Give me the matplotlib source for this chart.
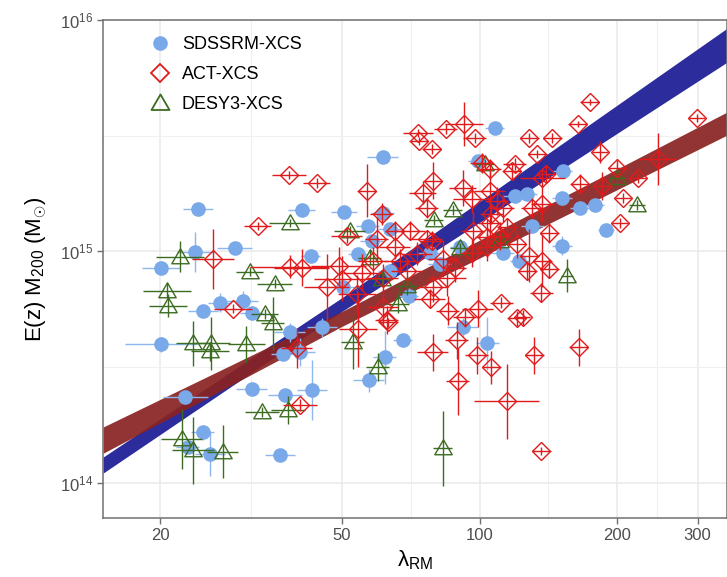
import numpy as np
import matplotlib
matplotlib.use("Agg")
import matplotlib.pyplot as plt
from matplotlib.lines import Line2D
from matplotlib.path import Path
from matplotlib.ticker import FixedLocator, FixedFormatter, NullFormatter

plt.rcParams["font.family"] = ["Liberation Sans", "DejaVu Sans"]
plt.rcParams["mathtext.fontset"] = "custom"
plt.rcParams["mathtext.rm"] = "Liberation Sans"
plt.rcParams["mathtext.it"] = "Liberation Sans:italic"
plt.rcParams["mathtext.bf"] = "Liberation Sans:bold"

# masses are E(z) M200 in units of 1e14 Msun; *_frac are relative error bar half-sizes

# SDSSRM-XCS
sds_lam = [20.1, 24.2, 23.9, 29.1, 40.8, 42.7, 50.5, 54.1, 27.0, 30.3,
           24.8, 31.7, 20.1, 38.4, 37.1, 40.4, 45.2, 22.7, 31.7, 37.5,
           43.0, 24.8, 25.7, 36.6, 23.0, 62.0, 57.2, 61.4, 56.9, 61.4,
           63.6, 58.1, 63.6, 50.2, 107.9, 99.1, 152.1, 119.3, 127.3, 151.4,
           165.7, 178.7, 188.9, 130.6, 151.4, 112.3, 77.8, 81.8, 70.0, 67.9,
           91.9, 104.1, 90.5, 122.3]
sds_mass = [8.51, 15.3, 9.97, 10.3, 15.1, 9.58, 14.8, 9.77, 6.01, 6.13,
            5.55, 5.39, 3.96, 4.46, 3.59, 3.66, 4.69, 2.34, 2.53, 2.39,
            2.51, 1.65, 1.33, 1.32, 1.42, 3.48, 2.77, 25.6, 12.9, 14.7,
            12.5, 11.1, 8.26, 6.98, 34.1, 24.6, 22.3, 17.4, 17.7, 17.0,
            15.4, 15.9, 12.4, 12.9, 10.6, 9.87, 9.87, 8.85, 6.44, 4.12,
            4.69, 4.00, 10.4, 9.12]
sds_lam_frac = [0.10, 0.08, 0.10, 0.09, 0.07, 0.05, 0.07, 0.05, 0.06, 0.08,
                0.08, 0.06, 0.20, 0.08, 0.06, 0.08, 0.08, 0.12, 0.08, 0.09,
                0.08, 0.06, 0.08, 0.08, 0.06, 0.06, 0.08, 0.08, 0.06, 0.06,
                0.06, 0.06, 0.06, 0.08, 0.05, 0.05, 0.05, 0.06, 0.05, 0.05,
                0.05, 0.05, 0.04, 0.06, 0.05, 0.06, 0.06, 0.06, 0.05, 0.05,
                0.08, 0.06, 0.05, 0.05]
sds_mass_frac = [0.05, 0.04, 0.22, 0.04, 0.03, 0.04, 0.03, 0.04, 0.10, 0.10,
                 0.05, 0.05, 0.08, 0.10, 0.06, 0.15, 0.10, 0.05, 0.05, 0.06,
                 0.35, 0.08, 0.25, 0.04, 0.06, 0.30, 0.12, 0.03, 0.05, 0.05,
                 0.05, 0.05, 0.05, 0.05, 0.03, 0.04, 0.05, 0.05, 0.05, 0.06,
                 0.05, 0.05, 0.04, 0.05, 0.10, 0.05, 0.06, 0.05, 0.08, 0.05,
                 0.10, 0.30, 0.05, 0.05]

# ACT-XCS
act_lam = [38.3, 44.0, 32.7, 26.1, 38.4, 40.8, 49.2, 51.2, 28.9, 39.8,
           40.4, 56.6, 61.1, 59.6, 65.2, 65.2, 46.3, 50.0, 55.3, 58.4,
           61.4, 61.4, 62.7, 54.1, 63.0, 73.3, 84.3, 92.4, 97.6, 73.6,
           78.6, 79.0, 75.1, 91.9, 101.1, 105.2, 119.3, 96.2, 105.2, 109.0,
           112.3, 76.6, 70.4, 96.6, 105.2, 114.6, 103.6, 76.6, 83.1, 88.3,
           69.3, 79.0, 84.8, 77.8, 85.2, 99.1, 111.7, 92.8, 89.2, 79.0,
           98.6, 106.2, 89.6, 114.6, 120.5, 124.2, 131.9, 164.9, 136.6, 136.6,
           174.3, 299.1, 164.1, 128.6, 144.4, 133.9, 183.3, 245.7, 199.7, 222.1,
           165.7, 137.3, 185.1, 205.8, 142.2, 202.7, 130.6, 137.3, 128.6, 137.3,
           142.2, 127.3, 120.5, 140.1, 106.2, 110.6, 96.2, 72.9, 66.9, 78.6,
           104.1, 117.5, 53.9]
act_mass = [21.4, 19.8, 12.9, 9.30, 8.59, 8.51, 8.68, 11.7, 5.66, 3.81,
            2.16, 18.3, 14.5, 11.3, 12.3, 10.4, 6.98, 7.63, 8.10, 9.12,
            7.70, 5.72, 5.03, 4.60, 4.93, 32.5, 33.8, 35.5, 30.9, 30.0,
            27.7, 20.2, 17.9, 18.8, 24.1, 22.7, 23.9, 16.9, 18.3, 16.5,
            15.4, 15.4, 12.3, 12.3, 13.2, 12.7, 11.5, 11.3, 9.30, 8.51,
            8.26, 6.98, 7.70, 6.25, 5.55, 5.66, 6.01, 5.18, 4.12, 3.66,
            3.55, 3.15, 2.74, 2.25, 5.13, 5.18, 3.55, 3.85, 1.37, 6.64,
            44.2, 37.7, 35.5, 30.9, 30.9, 26.4, 26.9, 25.1, 23.0, 20.8,
            19.6, 20.8, 19.2, 17.0, 12.0, 13.3, 15.4, 16.1, 9.58, 9.12,
            8.42, 8.26, 10.8, 21.6, 14.5, 11.7, 9.87, 9.77, 9.12, 11.1,
            10.4, 22.3, 6.57]
act_lam_frac = [0.09, 0.07, 0.07, 0.11, 0.22, 0.15, 0.15, 0.08, 0.10, 0.08,
                0.09, 0.05, 0.06, 0.06, 0.05, 0.08, 0.12, 0.15, 0.10, 0.08,
                0.08, 0.08, 0.06, 0.10, 0.05, 0.08, 0.06, 0.10, 0.06, 0.05,
                0.05, 0.05, 0.07, 0.07, 0.06, 0.06, 0.06, 0.10, 0.08, 0.06,
                0.06, 0.06, 0.08, 0.06, 0.06, 0.05, 0.06, 0.08, 0.08, 0.06,
                0.08, 0.08, 0.10, 0.08, 0.06, 0.08, 0.06, 0.06, 0.06, 0.08,
                0.06, 0.05, 0.06, 0.18, 0.05, 0.04, 0.05, 0.05, 0.05, 0.06,
                0.05, 0.04, 0.05, 0.05, 0.05, 0.05, 0.04, 0.10, 0.04, 0.04,
                0.05, 0.12, 0.04, 0.04, 0.05, 0.04, 0.06, 0.06, 0.05, 0.05,
                0.05, 0.05, 0.05, 0.05, 0.06, 0.06, 0.06, 0.08, 0.08, 0.06,
                0.06, 0.05, 0.10]
act_mass_frac = [0.04, 0.05, 0.04, 0.35, 0.12, 0.20, 0.20, 0.08, 0.05, 0.22,
                 0.06, 0.30, 0.12, 0.25, 0.10, 0.12, 0.40, 0.25, 0.20, 0.15,
                 0.15, 0.20, 0.15, 0.45, 0.05, 0.04, 0.05, 0.25, 0.05, 0.04,
                 0.05, 0.20, 0.12, 0.20, 0.10, 0.10, 0.06, 0.15, 0.20, 0.15,
                 0.15, 0.10, 0.10, 0.20, 0.15, 0.10, 0.20, 0.10, 0.20, 0.15,
                 0.12, 0.15, 0.20, 0.10, 0.15, 0.20, 0.06, 0.10, 0.20, 0.20,
                 0.20, 0.18, 0.40, 0.45, 0.08, 0.08, 0.20, 0.20, 0.04, 0.10,
                 0.03, 0.04, 0.03, 0.05, 0.05, 0.04, 0.12, 0.30, 0.08, 0.05,
                 0.10, 0.10, 0.15, 0.05, 0.10, 0.05, 0.10, 0.20, 0.30, 0.30,
                 0.10, 0.10, 0.15, 0.08, 0.10, 0.15, 0.15, 0.12, 0.12, 0.10,
                 0.15, 0.08, 0.20]

# DESY3-XCS
des_lam = [22.1, 20.7, 20.8, 31.4, 35.6, 38.4, 52.0, 23.6, 25.9, 25.7,
           30.9, 33.9, 35.3, 52.8, 33.4, 38.1, 22.3, 23.6, 27.4, 59.9,
           69.3, 66.2, 83.1, 102.6, 87.4, 79.4, 90.5, 199.7, 221.0, 155.2,
           57.5, 61.1, 110.6]
des_mass = [9.49, 6.77, 5.83, 8.18, 7.26, 13.3, 12.3, 4.00, 4.00, 3.70,
            3.96, 5.34, 4.88, 4.04, 2.02, 2.06, 1.54, 1.38, 1.36, 3.15,
            7.11, 5.95, 1.41, 23.9, 15.1, 13.7, 10.3, 20.8, 15.9, 7.86,
            9.39, 7.63, 11.1]
des_lam_frac = [0.13, 0.13, 0.10, 0.07, 0.09, 0.11, 0.08, 0.09, 0.10, 0.10,
                0.10, 0.07, 0.06, 0.06, 0.09, 0.09, 0.11, 0.11, 0.08, 0.06,
                0.06, 0.06, 0.05, 0.05, 0.05, 0.05, 0.05, 0.04, 0.04, 0.03,
                0.06, 0.06, 0.05]
des_mass_frac = [0.17, 0.08, 0.12, 0.05, 0.05, 0.04, 0.05, 0.25, 0.30, 0.10,
                 0.20, 0.05, 0.30, 0.30, 0.05, 0.15, 0.35, 0.40, 0.30, 0.15,
                 0.10, 0.10, 0.45, 0.05, 0.05, 0.05, 0.05, 0.06, 0.05, 0.18,
                 0.08, 0.08, 0.05]

# fitted relations (band edges, 1e14 Msun)
band_lam = [15, 50, 348]
sds_band_lo = [1.10, 5.50, 65.7]
sds_band_hi = [1.29, 6.31, 92.1]
act_band_lo = [1.34, 4.74, 31.8]
act_band_hi = [1.74, 5.50, 40.0]

BLUE = "#79A9E9"
RED = "#E01B1B"
GREEN = "#3C6B22"
BAND_BLUE = "#2C2C9C"
BAND_RED = "#8A2222"

# open equilateral triangle like ggplot shape 2
TRIANGLE = Path([(-0.5, -0.36), (0.5, -0.36), (0.0, 0.5), (-0.5, -0.36)],
                [Path.MOVETO, Path.LINETO, Path.LINETO, Path.CLOSEPOLY])


def draw_sample(ax, lam, mass, lam_frac, mass_frac, color, marker, ms, filled,
                ecolor, z):
    lam = np.asarray(lam)
    mass = np.asarray(mass) * 1e14
    lf = 1 + np.asarray(lam_frac)
    mf = 1 + np.asarray(mass_frac)
    xerr = [lam - lam / lf, lam * lf - lam]
    yerr = [mass - mass / mf, mass * mf - mass]
    ax.errorbar(lam, mass, xerr=xerr, yerr=yerr, fmt="none", ecolor=ecolor,
                elinewidth=1.0, capsize=0, zorder=z)
    ax.plot(lam, mass, linestyle="none", marker=marker, ms=ms,
            mfc=color if filled else "none", mec=color, mew=1.0, zorder=z + 0.1)


fig = plt.figure(figsize=(7.27, 5.77), dpi=100)
ax = fig.add_axes([0.1417, 0.1023, 0.8583, 0.863])
ax.set_xscale("log")
ax.set_yscale("log")
ax.set_xlim(15, 348)
ax.set_ylim(7.04e13, 1e16)

lam_b = np.asarray(band_lam)
ax.fill_between(lam_b, np.asarray(sds_band_lo) * 1e14, np.asarray(sds_band_hi) * 1e14,
                color=BAND_BLUE, lw=0, zorder=2)
ax.fill_between(lam_b, np.asarray(act_band_lo) * 1e14, np.asarray(act_band_hi) * 1e14,
                color=BAND_RED, alpha=0.92, lw=0, zorder=2.1)

draw_sample(ax, sds_lam, sds_mass, sds_lam_frac, sds_mass_frac, BLUE, "o", 9.5,
            True, "#8DB7EE", 3)
draw_sample(ax, des_lam, des_mass, des_lam_frac, des_mass_frac, GREEN, TRIANGLE, 12.5,
            False, GREEN, 4)
draw_sample(ax, act_lam, act_mass, act_lam_frac, act_mass_frac, RED, "D", 9,
            False, RED, 5)

# axes styling, ggplot theme_bw-like
x_major = [20, 50, 100, 200, 300]
x_minor = [31.6, 70.7, 141.4, 244.9]
y_major = [1e14, 1e15, 1e16]
y_minor = [10 ** 14.5, 10 ** 15.5]
ax.xaxis.set_major_locator(FixedLocator(x_major))
ax.xaxis.set_major_formatter(FixedFormatter([str(v) for v in x_major]))
ax.xaxis.set_minor_locator(FixedLocator(x_minor))
ax.xaxis.set_minor_formatter(NullFormatter())
ax.yaxis.set_major_locator(FixedLocator(y_major))
ax.yaxis.set_major_formatter(FixedFormatter([r"$10^{14}$", r"$10^{15}$", r"$10^{16}$"]))
ax.yaxis.set_minor_locator(FixedLocator(y_minor))
ax.yaxis.set_minor_formatter(NullFormatter())

ax.grid(which="major", color="#EBEBEB", lw=1.2, zorder=0)
ax.grid(which="minor", color="#F0F0F0", lw=0.8, zorder=0)
ax.set_axisbelow(True)
for spine in ax.spines.values():
    spine.set_color("#707070")
    spine.set_linewidth(1.1)
ax.tick_params(which="major", direction="out", length=4, width=1.0,
               color="#707070", labelcolor="#4D4D4D", labelsize=12, pad=3)
ax.tick_params(which="minor", length=0)

ax.set_xlabel("λ$_{\\mathrm{RM}}$", fontsize=16, labelpad=4)
ax.set_ylabel("E(z) M$_{\\mathrm{200}}$ (M$_{\\odot}$)", fontsize=16, labelpad=8)

handles = [
    Line2D([], [], linestyle="none", marker="o", ms=9.5, mfc=BLUE, mec=BLUE),
    Line2D([], [], linestyle="none", marker="D", ms=9, mfc="none", mec=RED, mew=1.3),
    Line2D([], [], linestyle="none", marker=TRIANGLE, ms=13, mfc="none", mec=GREEN, mew=1.3),
]
ax.legend(handles, ["SDSSRM-XCS", "ACT-XCS", "DESY3-XCS"], loc="upper left",
          bbox_to_anchor=(0.077, 0.968), frameon=False, fontsize=13,
          handlelength=1.0, handletextpad=0.7, labelspacing=0.72, borderpad=0,
          borderaxespad=0)

fig.savefig("out.png", dpi=100)
